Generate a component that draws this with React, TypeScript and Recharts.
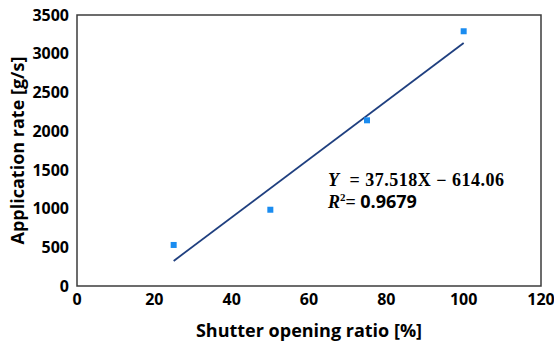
import React from 'react';
import {
    ScatterChart,
    Scatter,
    XAxis,
    YAxis,
    ReferenceArea,
    ReferenceLine,
    Label
} from 'recharts';

// measured points
const shutterRatio = [25, 50, 75, 100];
const applicationRate = [530, 985, 2140, 3290];

// linear fit shown on the chart
const slope = 37.518;
const intercept = -614.06;
const rSquared = 0.9679;
const fitRange = [25, 100];

const xTicks = [0, 20, 40, 60, 80, 100, 120];
const yTicks = [0, 500, 1000, 1500, 2000, 2500, 3000, 3500];

const points = shutterRatio.map((x, i) => ({ x, y: applicationRate[i] }));
const fitSegment = fitRange.map(x => ({ x, y: slope * x + intercept }));

const font = '"Open Sans", sans-serif';
const eqFont = '"Liberation Serif", "DejaVu Serif", serif';

const Marker = (props: any) => (
    <rect x={props.cx - 3} y={props.cy - 3} width={6} height={6} fill="#1a8cf0" />
);

export default function App() {
    return (
        <div style={{ position: 'absolute', left: 0, top: 0, width: 554, height: 343, background: '#fff' }}>
            <ScatterChart width={554} height={343} margin={{ top: 15, right: 13, bottom: 0, left: 0 }}>
                <XAxis
                    type="number"
                    dataKey="x"
                    domain={[0, 120]}
                    ticks={xTicks}
                    height={57}
                    axisLine={false}
                    tickLine={false}
                    tick={{ fill: '#000', fontSize: 16, fontWeight: 700, fontFamily: font }}
                >
                    <Label
                        value="Shutter opening ratio [%]"
                        position="insideBottom"
                        offset={6}
                        style={{ fill: '#000', fontSize: 18, fontWeight: 700, fontFamily: font }}
                    />
                </XAxis>
                <YAxis
                    type="number"
                    dataKey="y"
                    domain={[0, 3500]}
                    ticks={yTicks}
                    width={77}
                    axisLine={false}
                    tickLine={false}
                    tick={{ fill: '#000', fontSize: 16, fontWeight: 700, fontFamily: font }}
                >
                    <Label
                        value="Application rate [g/s]"
                        angle={-90}
                        position="insideLeft"
                        offset={18}
                        style={{ textAnchor: 'middle', fill: '#000', fontSize: 18, fontWeight: 700, fontFamily: font }}
                    />
                </YAxis>
                <ReferenceArea x1={0} x2={120} y1={0} y2={3500} fill="none" stroke="#3c3c3c" strokeWidth={1.5} />
                <ReferenceLine segment={fitSegment} stroke="#1f3f7f" strokeWidth={1.8} />
                <Scatter data={points} shape={Marker} isAnimationActive={false} />
            </ScatterChart>
            <div style={{ position: 'absolute', left: 328, top: 172, fontFamily: eqFont, fontWeight: 700, fontSize: 18, lineHeight: '17px', letterSpacing: 0.5, color: '#000', whiteSpace: 'pre' }}>
                <div><i>Y</i>{'  = ' + slope + 'X \u2212 ' + Math.abs(intercept).toFixed(2)}</div>
                <div style={{ letterSpacing: 0 }}><i>R</i><sup style={{ fontSize: 11 }}>2</sup>= <span style={{ fontFamily: font }}>{rSquared}</span></div>
            </div>
        </div>
    );
}
